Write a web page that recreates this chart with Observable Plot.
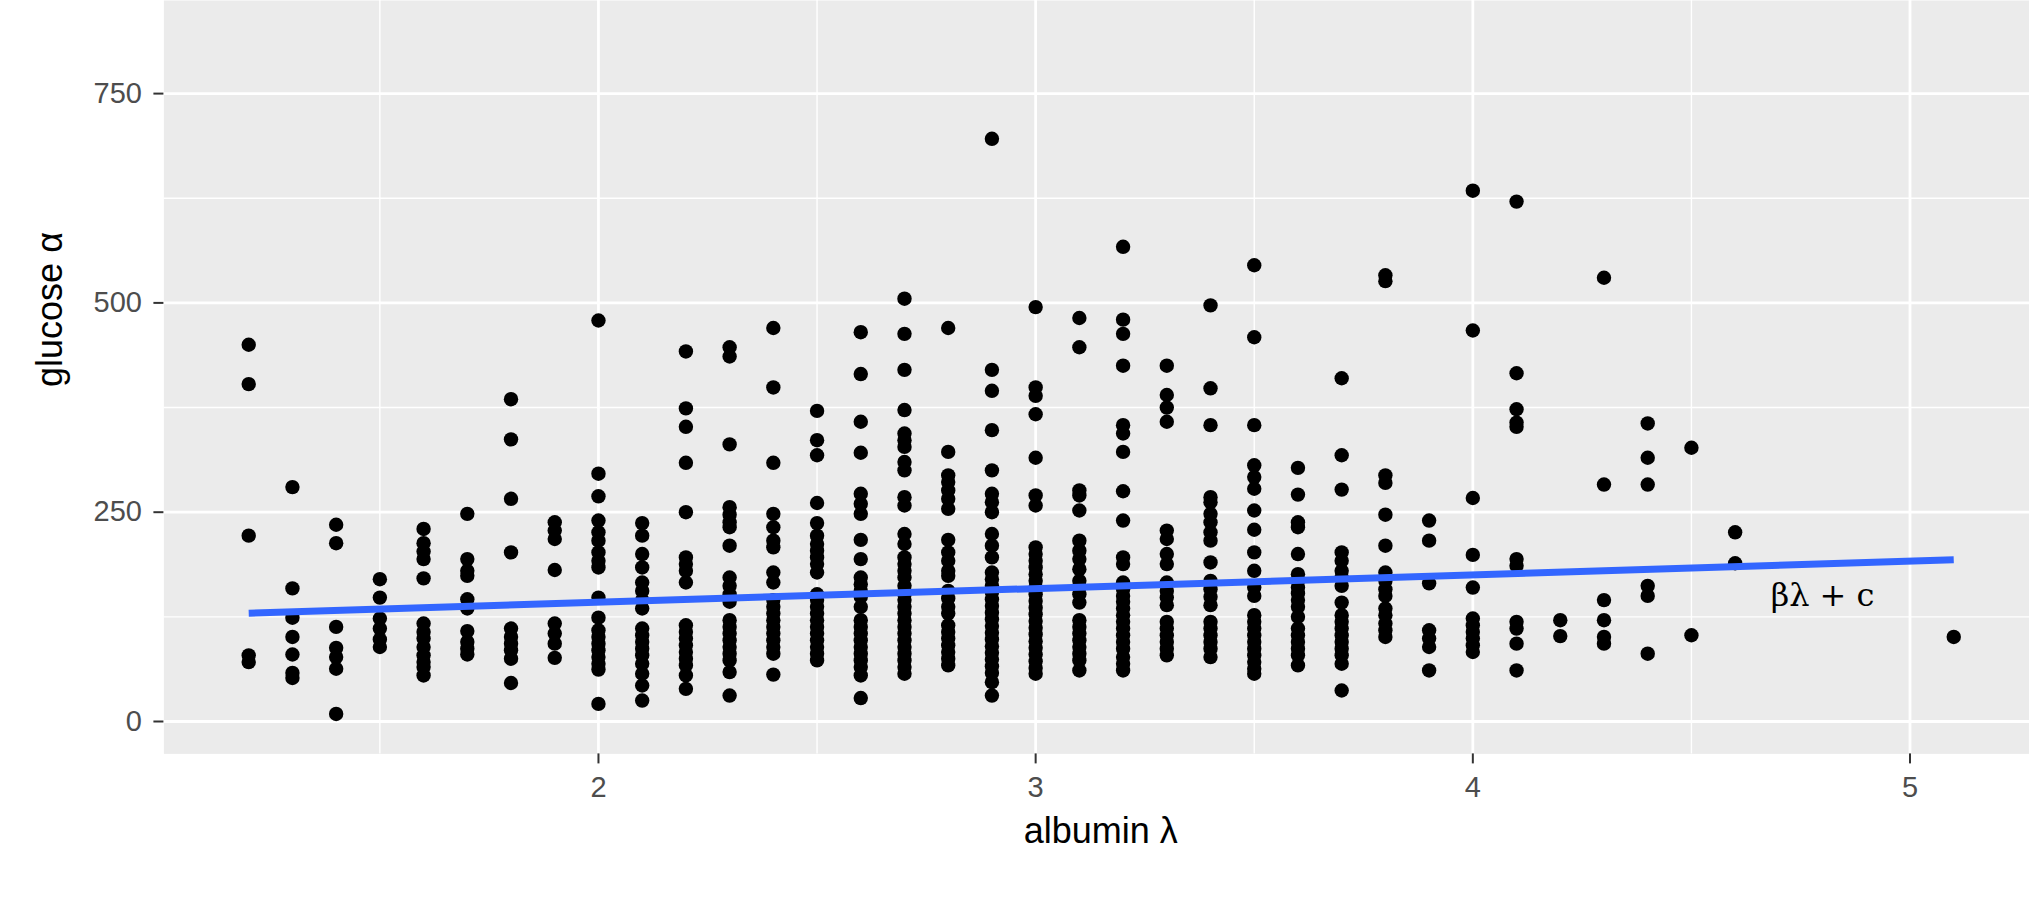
<!DOCTYPE html>
<html>
<head>
<meta charset="utf-8">
<script src="https://cdn.jsdelivr.net/npm/d3@7"></script>
<script src="https://cdn.jsdelivr.net/npm/@observablehq/plot@0.6"></script>
<style>
  html, body { margin: 0; padding: 0; background: #ffffff; }
  #chart svg { display: block; }
</style>
</head>
<body>
<div id="chart"></div>
<script>
// ---- data ----
const albuminLevels = [1.2, 1.3, 1.4, 1.5, 1.6, 1.7, 1.8, 1.9, 2.0, 2.1, 2.2, 2.3, 2.4, 2.5, 2.6, 2.7, 2.8, 2.9,
  3.0, 3.1, 3.2, 3.3, 3.4, 3.5, 3.6, 3.7, 3.8, 3.9, 4.0, 4.1, 4.2, 4.3, 4.4, 4.5, 4.6, 5.1];

const glucoseGroups = [
  [450, 403, 222, 79, 71],
  [280, 159, 124, 101, 80, 58, 52],
  [235, 213, 113, 88, 77, 63, 9],
  [170, 148, 123, 111, 98, 89],
  [230, 213, 203, 194, 171, 117, 107, 99, 89, 79, 71, 65, 55],
  [248, 194, 180, 174, 146, 135, 108, 95, 87, 80],
  [385, 337, 266, 202, 111, 101, 93, 85, 75, 46],
  [238, 228, 218, 181, 117, 105, 93, 76],
  [479, 296, 269, 240, 226, 216, 202, 192, 184, 148, 124, 109, 101, 93, 85, 77, 69, 62, 21],
  [237, 222, 200, 184, 166, 156, 145, 135, 111, 103, 95, 87, 79, 69, 57, 43, 25],
  [442, 374, 352, 309, 250, 196, 188, 180, 166, 115, 107, 99, 91, 83, 75, 67, 55, 39],
  [447, 436, 331, 256, 247, 238, 232, 210, 172, 162, 152, 143, 121, 113, 105, 97, 89, 81, 73, 59, 31],
  [470, 399, 309, 248, 232, 216, 208, 178, 166, 145, 137, 129, 121, 113, 105, 97, 89, 81, 56],
  [371, 336, 318, 261, 237, 222, 212, 204, 196, 188, 178, 152, 145, 137, 129, 121, 113, 105, 97, 89, 81, 73],
  [465, 415, 358, 321, 272, 260, 248, 217, 194, 172, 164, 156, 149, 137, 121, 113, 105, 97, 89, 81, 73, 65, 55, 28],
  [505, 463, 420, 372, 344, 336, 328, 310, 300, 268, 258, 224, 212, 196, 188, 180, 172, 162, 152, 145, 137, 129, 121, 113, 105, 97, 89, 81, 73, 65, 57],
  [470, 322, 294, 286, 276, 266, 254, 217, 202, 192, 180, 174, 156, 147, 137, 129, 115, 107, 99, 91, 83, 75, 67],
  [696, 420, 395, 348, 300, 272, 262, 250, 224, 210, 196, 178, 170, 162, 154, 146, 138, 130, 122, 114, 106, 98, 90, 82, 74, 66, 58, 47, 31],
  [495, 399, 389, 367, 315, 270, 258, 208, 200, 192, 184, 176, 168, 160, 152, 144, 136, 128, 120, 112, 104, 96, 88, 80, 72, 64, 57],
  [482, 447, 276, 270, 252, 216, 204, 194, 182, 168, 160, 152, 142, 121, 113, 105, 97, 89, 81, 73, 61],
  [567, 480, 463, 425, 354, 344, 322, 275, 240, 196, 188, 166, 158, 150, 143, 135, 127, 119, 111, 103, 95, 87, 77, 69, 61],
  [425, 390, 375, 358, 228, 218, 200, 188, 166, 156, 148, 139, 119, 111, 103, 95, 87, 79],
  [497, 398, 354, 268, 262, 248, 238, 226, 216, 190, 168, 158, 149, 139, 119, 111, 103, 95, 87, 77],
  [545, 459, 354, 306, 292, 278, 252, 229, 202, 180, 160, 150, 127, 119, 111, 103, 95, 87, 79, 71, 63, 57],
  [303, 271, 238, 232, 200, 176, 168, 160, 153, 145, 137, 125, 111, 103, 95, 87, 79, 67],
  [410, 318, 277, 202, 192, 180, 172, 162, 142, 127, 119, 111, 103, 95, 87, 79, 69, 37],
  [533, 526, 294, 285, 247, 210, 178, 168, 158, 150, 135, 127, 117, 109, 101],
  [240, 216, 165, 109, 99, 89, 61],
  [634, 467, 267, 199, 160, 123, 115, 107, 99, 91, 83],
  [621, 416, 373, 357, 352, 194, 186, 119, 111, 93, 61],
  [121, 102],
  [530, 283, 145, 121, 101, 93],
  [356, 315, 283, 162, 150, 81],
  [327, 103],
  [226, 189],
  [101]
];

const xTicks = [2, 3, 4, 5];
const xMinorTicks = [1.5, 2.5, 3.5, 4.5];
const yTicks = [0, 250, 500, 750];
const yMinorTicks = [125, 375, 625];

// fitted line end points
const fitX = [1.2, 5.1];
const fitY = [129.4, 193.1];

const annotationX = [4.8];
const annotationY = [150];
const annotationLabel = ["βλ + c"];

const xTitle = "albumin λ";
const yTitle = "glucose α";

// ---- tables built from the arrays ----
const points = albuminLevels.flatMap((a, i) => glucoseGroups[i].map(g => ({albumin: a, glucose: g})));
const fit = fitX.map((x, i) => ({x, y: fitY[i]}));
const annotations = annotationX.map((x, i) => ({x, y: annotationY[i], label: annotationLabel[i]}));

const W = 2029, H = 923, LEFT = 163.4, BOTTOM = 753.4;

const chart = Plot.plot({
  width: W,
  height: H,
  marginLeft: LEFT,
  marginRight: 0,
  marginTop: 0,
  marginBottom: H - BOTTOM,
  x: {domain: [1.006, 5.2733]},
  y: {domain: [-38.7, 861.2]},
  style: {fontFamily: "'Liberation Sans', Arial, sans-serif", background: "#ffffff", overflow: "visible"},
  marks: [
    Plot.frame({fill: "#EBEBEB", stroke: null}),
    Plot.ruleX(xMinorTicks, {stroke: "#ffffff", strokeWidth: 1.4}),
    Plot.ruleY(yMinorTicks, {stroke: "#ffffff", strokeWidth: 1.4}),
    Plot.ruleX(xTicks, {stroke: "#ffffff", strokeWidth: 2.8}),
    Plot.ruleY(yTicks, {stroke: "#ffffff", strokeWidth: 2.8}),
    Plot.dot(points, {x: "albumin", y: "glucose", r: 7.2, fill: "#000000", stroke: null}),
    Plot.line(fit, {x: "x", y: "y", stroke: "#3366FF", strokeWidth: 7, strokeLinecap: "butt"}),
    Plot.text(annotations, {x: "x", y: "y", text: "label", fontFamily: "'DejaVu Serif', serif", fontSize: 32, fill: "#000000"}),
    Plot.axisX(xTicks, {tickSize: 10, tickPadding: 13, fontSize: 29, tickFormat: d => String(d), color: "#4D4D4D", stroke: "#333333", strokeWidth: 2, label: null}),
    Plot.axisY(yTicks, {tickSize: 10, tickPadding: 12, fontSize: 29, tickFormat: d => String(d), color: "#4D4D4D", stroke: "#333333", strokeWidth: 2, label: null}),
    Plot.text([xTitle], {text: d => d, frameAnchor: "bottom", textAnchor: "middle", lineAnchor: "bottom", dx: 4, dy: 88.6, fontSize: 36, fill: "#000000"}),
    Plot.text([yTitle], {text: d => d, frameAnchor: "left", textAnchor: "middle", rotate: -90, lineAnchor: "bottom", dx: 62 - LEFT, dy: 309 - BOTTOM / 2, fontSize: 36, fill: "#000000"})
  ]
});

document.getElementById("chart").appendChild(chart);
</script>
</body>
</html>
